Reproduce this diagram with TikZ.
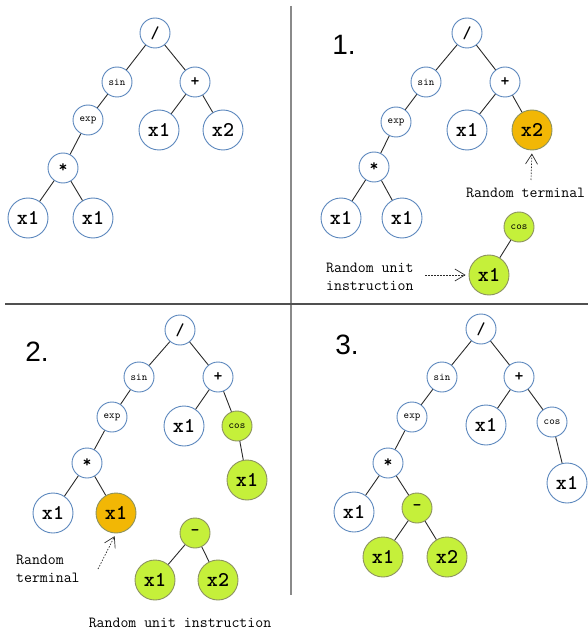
\documentclass[tikz,border=0pt]{standalone}
\usepackage{fontspec}
\setmainfont{Liberation Sans}
\usetikzlibrary{arrows.meta}

\definecolor{nodeblue}{HTML}{5B87BD}
\definecolor{termorange}{HTML}{F2B705}
\definecolor{unitgreen}{HTML}{C5F03A}
\definecolor{fillborder}{HTML}{8C9260}
\definecolor{edgegrey}{HTML}{2A2A2A}
\definecolor{vrule}{HTML}{8A8A8A}
\definecolor{hrule}{HTML}{505050}

\tikzset{
  treenode/.style={circle, draw=nodeblue, line width=0.9pt, fill=white, inner sep=0pt},
  leaf/.style={treenode, minimum size=40pt, font=\ttfamily\bfseries\fontsize{21}{21}\selectfont},
  fun/.style={treenode, minimum size=30pt, font=\ttfamily\fontsize{10.5}{10.5}\selectfont},
  op/.style={treenode, minimum size=30pt, font=\ttfamily\bfseries\fontsize{17}{17}\selectfont},
  picked/.style={fill=termorange, draw=fillborder},
  fresh/.style={fill=unitgreen, draw=fillborder},
  edge/.style={draw=edgegrey, line width=0.9pt},
  note/.style={font=\ttfamily\fontsize{15.4}{17.5}\selectfont, inner sep=0pt, align=left},
  stage/.style={font=\fontsize{28}{28}\selectfont, inner sep=0pt},
  hint/.style={draw=edgegrey, line width=0.7pt, dash pattern=on 1.5pt off 1.5pt,
    shorten >=3pt, -{Straight Barb[length=10pt,width=12pt,line width=0.7pt]}},
}

\begin{document}
\begin{tikzpicture}[x=1pt,y=-1pt]
\useasboundingbox (0,0) rectangle (588,631);

% quadrant separators
\draw[vrule, line width=2.5pt] (291,6) -- (291,595);
\draw[hrule, line width=2pt] (5,304) -- (588,304);

% ---------- original tree ----------
\node[op]   (r1) at (155,33)  {/};
\node[fun]  (s1) at (117,82)  {sin};
\node[op]   (p1) at (195,82)  {+};
\node[fun]  (e1) at (88,120)  {exp};
\node[leaf] (a1) at (159,130) {x1};
\node[leaf] (b1) at (223,130) {x2};
\node[op]   (m1) at (63,168)  {*};
\node[leaf] (c1) at (28,218)  {x1};
\node[leaf] (d1) at (93,218)  {x1};
\foreach \u/\v in {r1/s1,r1/p1,s1/e1,e1/m1,m1/c1,m1/d1,p1/a1,p1/b1}
  \draw[edge] (\u) -- (\v);

% ---------- step 1 ----------
\node[stage] (t1) at (344,45) {1.};
\node[op]   (r2) at (467,33)  {/};
\node[fun]  (s2) at (426,82)  {sin};
\node[op]   (p2) at (505,82)  {+};
\node[fun]  (e2) at (396,122) {exp};
\node[leaf] (a2) at (467,130) {x1};
\node[leaf,picked] (b2) at (532,130) {x2};
\node[op]   (m2) at (374,167) {*};
\node[leaf] (c2) at (341,218) {x1};
\node[leaf] (d2) at (402,218) {x1};
\foreach \u/\v in {r2/s2,r2/p2,s2/e2,e2/m2,m2/c2,m2/d2,p2/a2,p2/b2}
  \draw[edge] (\u) -- (\v);

\node[note, anchor=west] (rt2) at (466,193) {Random terminal};
\coordinate (rt2tip) at (531,180);
\draw[hint] (rt2tip) -- (b2.south);

\node[fun,fresh]  (k2) at (519,227) {cos};
\node[leaf,fresh] (u2) at (489,275) {x1};
\draw[edge] (k2) -- (u2);
\node[note, anchor=west] (ru2) at (326,277) {Random unit\\instruction};
\coordinate (ru2tip) at (425,275);
\draw[hint] (ru2tip) -- (u2.west);

% ---------- step 2 ----------
\node[stage] (t2) at (37,352) {2.};
\node[op]   (r3) at (180,330) {/};
\node[fun]  (s3) at (139,377) {sin};
\node[op]   (p3) at (218,377) {+};
\node[fun]  (e3) at (112,417) {exp};
\node[leaf] (a3) at (184,426) {x1};
\node[fun,fresh]  (k3) at (237,426) {cos};
\node[leaf,fresh] (l3) at (247,480) {x1};
\node[op]   (m3) at (87,463)  {*};
\node[leaf] (c3) at (53,513)  {x1};
\node[leaf,picked] (d3) at (116,513) {x1};
\foreach \u/\v in {r3/s3,r3/p3,s3/e3,e3/m3,m3/c3,m3/d3,p3/a3,p3/k3,k3/l3}
  \draw[edge] (\u) -- (\v);

\node[note, anchor=west] (rt3) at (16,569) {Random\\terminal};
\coordinate (rt3tip) at (98,569);
\draw[hint] (rt3tip) -- (d3.south);

\node[op,fresh]   (n3) at (195,533) {-};
\node[leaf,fresh] (f3) at (155,580) {x1};
\node[leaf,fresh] (g3) at (218,580) {x2};
\draw[edge] (n3) -- (f3);
\draw[edge] (n3) -- (g3);
\node[note] (ru3) at (180,623) {Random unit instruction};

% ---------- step 3 ----------
\node[stage] (t3) at (347,345) {3.};
\node[op]   (r4) at (481,329) {/};
\node[fun]  (s4) at (442,377) {sin};
\node[op]   (p4) at (519,377) {+};
\node[fun]  (e4) at (412,417) {exp};
\node[leaf] (a4) at (486,425) {x1};
\node[fun]  (k4) at (552,422) {cos};
\node[leaf] (l4) at (567,483) {x1};
\node[op]   (m4) at (388,463) {*};
\node[leaf] (c4) at (354,512) {x1};
\node[op,fresh]   (n4) at (417,508) {-};
\node[leaf,fresh] (f4) at (383,557) {x1};
\node[leaf,fresh] (g4) at (447,557) {x2};
\foreach \u/\v in {r4/s4,r4/p4,s4/e4,e4/m4,m4/c4,m4/n4,n4/f4,n4/g4,p4/a4,p4/k4,k4/l4}
  \draw[edge] (\u) -- (\v);

\end{tikzpicture}
\end{document}
